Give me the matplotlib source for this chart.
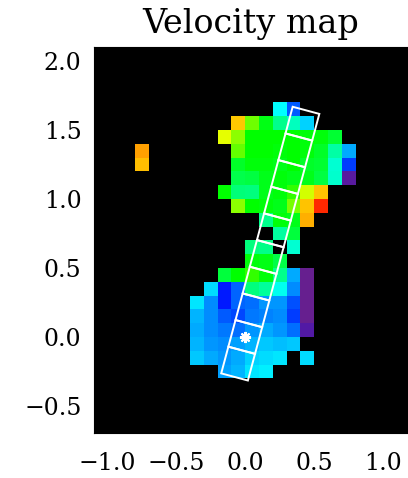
#Velocity map of the two blobs with the slit laid over it
import numpy as np
import matplotlib
matplotlib.use('Agg')
import matplotlib.pyplot as plt
from matplotlib.colors import LinearSegmentedColormap
from matplotlib.patches import Rectangle
import matplotlib.transforms as mtransforms

n = np.nan

#Grid of 0.1 arcsec spaxels, lower left corner of the first cell
x0 = -0.8
y0 = -0.3
cell = 0.1

#Velocities in km/s, rows from top (y=1.6) down to bottom (y=-0.3),
#columns from x=-0.8 to x=0.7
vel_rows = [
    [n, n, n, n, n, n, n, n, n, n, -50, -115, n, n, n, n],
    [n, n, n, n, n, n, n, 170, 93, 42, -5, -25, -68, n, n, n],
    [n, n, n, n, n, n, 140, 105, 50, 50, 50, 50, 45, 45, 30, n],
    [187, n, n, n, n, n, n, 89, 50, 50, 45, 50, 45, 35, -15, -83],
    [175, n, n, n, n, n, n, 35, 45, 45, 40, 50, 35, 30, -32, -126],
    [n, n, n, n, n, n, n, 20, 25, 40, 45, 40, 40, 25, -30, -235],
    [n, n, n, n, n, n, 50, 3, 0, 40, 45, 70, 132, 172, n, n],
    [n, n, n, n, n, n, n, 105, 50, 45, 40, 97, 172, 234, n, n],
    [n, n, n, n, n, n, n, n, n, -5, 45, 40, 181, n, n, n],
    [n, n, n, n, n, n, n, n, n, n, -13, 27, n, n, n, n],
    [n, n, n, n, n, n, n, n, 0, -3, n, -32, n, n, n, n],
    [n, n, n, n, n, n, n, n, 45, 42, 23, n, n, n, n, n],
    [n, n, n, n, n, n, 27, 50, 70, 45, -5, -83, -250, n, n, n],
    [n, n, n, n, n, -64, -140, -111, 0, -10, -44, -95, -250, n, n, n],
    [n, n, n, n, -60, -95, -140, -111, -107, -90, -91, -119, -250, n, n, n],
    [n, n, n, n, -79, -95, -115, -123, -103, -98, -95, -126, -250, n, n, n],
    [n, n, n, n, -83, -95, -103, -107, -91, -83, -91, -107, -230, n, n, n],
    [n, n, n, n, -79, -91, -95, -87, -79, -72, -75, -72, n, n, n, n],
    [n, n, n, n, -72, -83, -91, -83, -68, -64, -60, n, -64, n, n, n],
    [n, n, n, n, n, n, -87, -79, -60, -55, n, n, n, n, n, n],
]
vmin = -250
vmax = 250

#Slit: position angle (deg, from +y towards +x), box size and extent along the slit
slit_pa = 15.0
slit_width = 0.2
slit_start = -0.3
slit_nbox = 10

x_ticks = [-1.0, -0.5, 0.0, 0.5, 1.0]
x_tick_labels = ['\u22121.0', '\u22120.5', '0.0', '0.5', '1.0']
y_ticks = [-0.5, 0.0, 0.5, 1.0, 1.5, 2.0]
y_tick_labels = ['\u22120.5', '0.0', '0.5', '1.0', '1.5', '2.0']

#IDL-like rainbow: purple - blue - cyan - green - yellow - red
cmap = LinearSegmentedColormap.from_list('idlrainbow', [
    (0.0, (0.40, 0.12, 0.56)),
    (0.2, (0.0, 0.0, 1.0)),
    (0.4, (0.0, 1.0, 1.0)),
    (0.6, (0.0, 1.0, 0.0)),
    (0.8, (1.0, 1.0, 0.0)),
    (1.0, (1.0, 0.0, 0.0))])

vel = np.array(vel_rows, dtype=float)[::-1]
ny, nx = vel.shape
x_edges = x0 + cell*np.arange(nx+1)
y_edges = y0 + cell*np.arange(ny+1)

fig = plt.figure(figsize=(4.08, 4.78), dpi=100)
ax = fig.add_axes([94/408, 45/478, (408-94)/408, (433-47)/478])
ax.set_facecolor('black')

ax.pcolormesh(x_edges, y_edges, np.ma.masked_invalid(vel), cmap=cmap,
              vmin=vmin, vmax=vmax, shading='flat')

#slit boxes, drawn in slit coordinates then rotated about the star
rot = mtransforms.Affine2D().rotate_deg(-slit_pa) + ax.transData
for k in range(slit_nbox):
    box = Rectangle((-slit_width/2, slit_start + k*slit_width), slit_width, slit_width,
                    fill=False, edgecolor='white', linewidth=1.4, transform=rot)
    ax.add_patch(box)

ax.plot([0], [0], marker=(8, 2, 0), color='white', markersize=8, mew=1.5)

ax.set_xlim(-1.096, 1.179)
ax.set_ylim(-0.696, 2.101)
ax.set_aspect('auto')

ax.set_xticks(x_ticks)
ax.set_xticklabels(x_tick_labels)
ax.set_yticks(y_ticks)
ax.set_yticklabels(y_tick_labels)
ax.tick_params(direction='in', color='black', length=8, labelsize=17, pad=14)
ax.tick_params(axis='y', pad=9)
for lab in ax.get_xticklabels() + ax.get_yticklabels():
    lab.set_family('DejaVu Serif')
for sp in ax.spines.values():
    sp.set_color('black')

ax.set_title('Velocity map', fontsize=24, family='DejaVu Serif', pad=10)

fig.savefig('out.png', dpi=100)
